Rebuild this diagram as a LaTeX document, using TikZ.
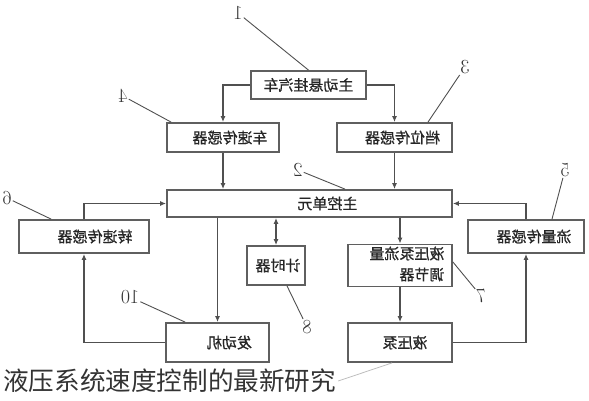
\documentclass[tikz,border=0pt]{standalone}
\usepackage{fontspec}
\usepackage{xcolor}
\usepackage{graphicx}
\usepackage{tikz}
\usetikzlibrary{positioning,arrows.meta}
\newfontfamily\cjk{Noto Sans CJK SC}
\newfontfamily\cjkdark{Noto Sans CJK SC}[FakeBold=0.8]
\definecolor{boxgray}{RGB}{95,95,95}
\definecolor{linegray}{RGB}{80,80,80}
\definecolor{markgray}{RGB}{190,190,190}
% mirrored label, pushed right by #1 pt
\newcommand{\flipped}[2][0]{\hspace*{#1pt}\hspace*{#1pt}\reflectbox{#2}}

\begin{document}
\begin{tikzpicture}[x=1pt,y=-1pt,
  blk/.style={draw=boxgray,line width=1.8pt,inner sep=0pt,text=black!85,font=\cjkdark\fontsize{15}{21}\selectfont},
  conn/.style={draw=linegray,line width=1.5pt,-{Latex[length=6pt,width=5pt]}},
  lead/.style={draw=linegray,line width=0.9pt},
  num/.style={inner sep=1pt,text=black!80,font=\fontsize{20}{20}\selectfont}]
  \useasboundingbox (0,0) rectangle (589,400);
  % blocks
  \node[blk,minimum width=115pt,minimum height=28pt] (car) at (308.5,85) {\flipped{主动悬挂汽车}};
  \node[blk,minimum width=112pt,minimum height=29pt] (vspd) at (223,137.5) {\flipped[7]{车速传感器}};
  \node[blk,minimum width=115pt,minimum height=29pt] (gear) at (394.5,137.5) {\flipped[8]{档位传感器}};
  \node[blk,minimum width=285pt,minimum height=27pt] (ecu) at (309.5,203.5) {\flipped[18]{主控单元}};
  \node[blk,minimum width=130pt,minimum height=33pt] (rspd) at (84,236.5) {\flipped[11]{转速传感器}};
  \node[blk,minimum width=116pt,minimum height=33pt] (flow) at (526,236.5) {\flipped[8]{流量传感器}};
  \node[blk,minimum width=58pt,minimum height=39pt] (timer) at (276,265.5) {\flipped[2]{计时器}};
  \node[blk,minimum width=104pt,minimum height=39pt] (reg) at (400,265.5)
    {\flipped[7]{\begin{tabular}{@{}l@{}}液压泵流量\\调节器\end{tabular}}};
  \node[blk,minimum width=103pt,minimum height=39pt] (eng) at (217.5,342.5) {\flipped[12]{发动机}};
  \node[blk,minimum width=104pt,minimum height=39pt] (pump) at (400,342.5) {\flipped[5]{液压泵}};
  % signal paths
  \draw[conn] (car.west) -| (vspd.north);
  \draw[conn] (car.east) -| (gear.north);
  \draw[conn] (vspd.south) -- (vspd.south |- ecu.north);
  \draw[conn] (gear.south) -- (gear.south |- ecu.north);
  \draw[conn] (rspd.north) |- (ecu.west);
  \draw[conn] (flow.north) |- (ecu.east);
  \draw[conn] (ecu.south -| eng.north) -- (eng.north);
  \draw[conn,{Latex[length=6pt,width=5pt]}-{Latex[length=6pt,width=5pt]}] (ecu.south -| timer.north) -- (timer.north);
  \draw[conn] (ecu.south -| reg.north) -- (reg.north);
  \draw[conn] (reg.south) -- (pump.north);
  \draw[conn] (pump.east) -| (flow.south);
  \draw[conn] (eng.west) -| (rspd.south);
  % part numbers
  \node[num] (l1) at (238,13) {\reflectbox{1}};
  \node[num] (l2) at (298,170) {\reflectbox{2}};
  \node[num] (l3) at (465,67) {\reflectbox{3}};
  \node[num] (l4) at (123,96) {\reflectbox{4}};
  \node[num] (l5) at (565,170) {\reflectbox{5}};
  \node[num] (l6) at (7,198) {\reflectbox{6}};
  \node[num] (l7) at (481,296) {\reflectbox{7}};
  \node[num] (l8) at (307,327) {\reflectbox{8}};
  \node[num] (l10) at (130,297) {\reflectbox{10}};
  \draw[lead] (l1) -- (car.north);
  \draw[lead] (l2) -- ([xshift=35.5pt]ecu.north);
  \draw[lead] (l3) -- ([xshift=33.5pt]gear.north);
  \draw[lead] (l4) -- ([xshift=5pt]vspd.north west);
  \draw[lead] (l5) -- ([xshift=26pt]flow.north);
  \draw[lead] (l6) -- ([xshift=33pt]rspd.north west);
  \draw[lead] (l7) -- ([yshift=3.5pt]reg.east);
  \draw[lead] (l8) -- ([xshift=11pt]timer.south);
  \draw[lead] (l10) -- ([xshift=20pt]eng.north west);
  % caption
  \node[anchor=west,inner sep=2pt,text=black!80,font=\cjk\fontsize{25.6}{26}\selectfont] (cap) at (1,381) {液压系统速度控制的最新研究};
  \draw[draw=markgray,line width=0.8pt] (cap.east) -- ([xshift=-8pt]pump.south);
\end{tikzpicture}
\end{document}
